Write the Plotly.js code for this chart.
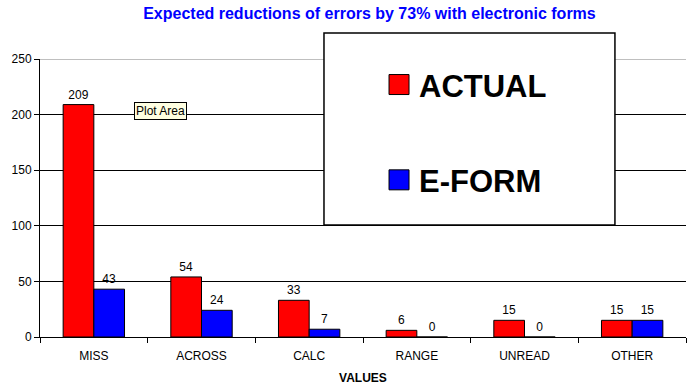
<!DOCTYPE html>
<html>
<head>
<meta charset="utf-8">
<script src="https://cdn.plot.ly/plotly-3.0.1.min.js"></script>
<style>html,body{margin:0;padding:0;background:#fff;}#chart{width:692px;height:386px;}</style>
</head>
<body>
<div id="chart"></div>
<script>
const categories = ["MISS", "ACROSS", "CALC", "RANGE", "UNREAD", "OTHER"];
const actualValues = [209, 54, 33, 6, 15, 15];
const eformValues = [43, 24, 7, 0, 0, 15];
const seriesNames = ["ACTUAL", "E-FORM"];
const yTicks = [0, 50, 100, 150, 200, 250];
const titleText = "Expected reductions of errors by 73% with electronic forms";
const xTitle = "VALUES";
const tooltipText = "Plot Area";

const FONT = "Arial, 'Liberation Sans', sans-serif";

const traces = [
  {
    type: "bar", name: seriesNames[0], x: categories, y: actualValues,
    legendgroup: "a",
    marker: {color: "#FF0000", line: {color: "#000000", width: 1}},
    text: actualValues.map(String), textposition: "outside",
    textfont: {family: FONT, size: 12, color: "#000"},
    cliponaxis: false, hoverinfo: "skip"
  },
  {
    type: "bar", name: seriesNames[1], x: categories, y: eformValues,
    legendgroup: "b",
    marker: {color: "#0000FF", line: {color: "#000000", width: 1}},
    text: eformValues.map(String), textposition: "outside",
    textfont: {family: FONT, size: 12, color: "#000"},
    cliponaxis: false, hoverinfo: "skip"
  }
];

const layout = {
  width: 692, height: 386,
  margin: {l: 40, r: 6, t: 59, b: 49},
  paper_bgcolor: "#fff", plot_bgcolor: "#fff",
  font: {family: FONT, size: 12, color: "#000"},
  title: {
    text: "<b>" + titleText + "</b>",
    font: {family: FONT, size: 16, color: "#0000FF"},
    x: 0.51, xref: "paper", xanchor: "center",
    y: 0.965, yref: "container", yanchor: "middle"
  },
  barmode: "group", bargap: 0.43, bargroupgap: 0,
  xaxis: {
    type: "category",
    showline: true, linecolor: "#000", linewidth: 1,
    ticks: "outside", tickson: "boundaries", ticklen: 5, tickcolor: "#000",
    ticklabelstandoff: 8,
    tickfont: {family: FONT, size: 12, color: "#000"},
    showgrid: false, zeroline: false,
    title: {text: "<b>" + xTitle + "</b>", font: {family: FONT, size: 12, color: "#000"}, standoff: 11}
  },
  yaxis: {
    range: [0, 250], tickvals: yTicks, ticktext: yTicks.map(String),
    showline: true, linecolor: "#000", linewidth: 1,
    ticks: "outside", ticklen: 5, tickcolor: "#000",
    tickfont: {family: FONT, size: 12, color: "#000"},
    showgrid: true, gridcolor: "#000", gridwidth: 1,
    zeroline: false
  },
  showlegend: true,
  legend: {
    x: 0.5248, xanchor: "left", y: 1.004, yanchor: "top",
    bgcolor: "rgba(0,0,0,0)", borderwidth: 0,
    traceorder: "grouped", tracegroupgap: 52,
    font: {family: FONT, size: 31, color: "#000", weight: "bold"}
  },
  shapes: [
    {type: "line", xref: "paper", yref: "y", x0: 0, x1: 1, y0: 250, y1: 250,
     line: {color: "#808080", width: 1}, layer: "above"},
    {type: "rect", xref: "paper", yref: "paper",
     x0: 0.4396, x1: 0.890, y0: 0.4029, y1: 1.0935,
     fillcolor: "#fff", line: {color: "#000", width: 1.5}, layer: "above"}
  ],
  annotations: [
    {text: tooltipText, xref: "paper", yref: "paper", x: 0.1858, y: 0.813,
     xanchor: "center", yanchor: "middle",
     showarrow: false, bgcolor: "#FFFFE1", bordercolor: "#000", borderwidth: 1, borderpad: 1,
     font: {family: FONT, size: 12, color: "#000"}}
  ]
};

Plotly.newPlot("chart", traces, layout, {displayModeBar: false, staticPlot: true}).then(function(gd){
  gd.querySelectorAll(".legend .legendpoints path").forEach(function(p){
    p.setAttribute("d", "M10,10H-10V-10H10Z");
  });
});
</script>
</body>
</html>
